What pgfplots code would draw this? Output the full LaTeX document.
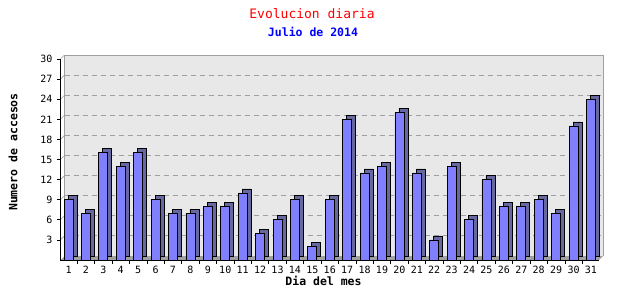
\documentclass[border=0pt]{standalone}
\usepackage{fontspec}
\setmainfont{DejaVu Sans Mono}
\usepackage{pgfplots}
\pgfplotsset{compat=1.18}
\definecolor{barfront}{HTML}{8080FF}
\definecolor{barside}{HTML}{6868A0}
\definecolor{plane}{HTML}{E8E8E8}
\definecolor{floorc}{HTML}{A0A0A0}
\definecolor{gridc}{HTML}{A0A0A0}
\begin{document}
\begin{tikzpicture}
\path[use as bounding box] (-60.5pt,-40pt) rectangle (579.5pt,260pt);
% back plane and floor
\fill[plane] (4pt,4pt) rectangle (542.5pt,205pt);
\draw[gridc, line width=0.8pt] (4pt,4pt) -- (4pt,205pt) -- (542.5pt,205pt) -- (542.5pt,4pt);
\fill[floorc] (0pt,0pt) -- (538.5pt,0pt) -- (542.5pt,4pt) -- (4pt,4pt) -- cycle;
\foreach \k in {3,6,...,30} {\draw[gridc, line width=0.6pt] (0pt,6.7pt*\k) -- (4pt,6.7pt*\k+4pt);}
\begin{axis}[
  at={(0pt,0pt)}, anchor=south west,
  scale only axis, width=538.5pt, height=201pt,
  xmin=0.54, xmax=31.46, ymin=0, ymax=30,
  axis x line=bottom, axis y line=left,
  axis line style={-, black, line width=0.8pt},
  xtick={1,...,31},
  minor xtick={1.5,2.5,...,30.5},
  ytick={3,6,...,30},
  tick align=outside,
  major tick length=3pt, minor tick length=4pt,
  major x tick style={draw=none},
  minor x tick style={black, line width=0.6pt},
  ytick style={black, line width=0.6pt},
  ymajorgrids,
  major grid style={gridc, line width=0.8pt, dash pattern=on 5pt off 4pt, xshift=4pt, yshift=4pt},
  /pgf/number format/assume math mode=true,
  tick label style={font=\fontsize{10}{11}\selectfont, black},
  xticklabel style={anchor=north, inner sep=0pt, yshift=-3pt},
  yticklabel style={anchor=east, inner sep=0pt, xshift=-5pt},
  clip=false,
]
\addplot[ybar, bar width=9pt, bar shift=4pt, yshift=4pt, fill=barside, draw=black, line width=0.7pt]
 coordinates {(1,9) (2,7) (3,16) (4,14) (5,16) (6,9) (7,7) (8,7) (9,8) (10,8) (11,10) (12,4) (13,6) (14,9) (15,2) (16,9) (17,21) (18,13) (19,14) (20,22) (21,13) (22,3) (23,14) (24,6) (25,12) (26,8) (27,8) (28,9) (29,7) (30,20) (31,24)};
\addplot[ybar, bar width=9pt, bar shift=0pt, fill=barfront, draw=black, line width=0.7pt]
 coordinates {(1,9) (2,7) (3,16) (4,14) (5,16) (6,9) (7,7) (8,7) (9,8) (10,8) (11,10) (12,4) (13,6) (14,9) (15,2) (16,9) (17,21) (18,13) (19,14) (20,22) (21,13) (22,3) (23,14) (24,6) (25,12) (26,8) (27,8) (28,9) (29,7) (30,20) (31,24)};
\end{axis}
\node[text=red, font=\fontsize{13}{14}\selectfont, inner sep=0pt] at (251.5pt,246pt) {Evolucion diaria};
\node[text=blue, font=\bfseries\fontsize{11.5}{12}\selectfont, inner sep=0pt] at (252.5pt,228pt) {Julio de 2014};
\node[font=\bfseries\fontsize{11.5}{12}\selectfont, inner sep=0pt] at (263pt,-21pt) {Dia del mes};
\node[font=\bfseries\fontsize{11.5}{12}\selectfont, inner sep=0pt, rotate=90] at (-47.5pt,108pt) {Numero de accesos};
\end{tikzpicture}
\end{document}
